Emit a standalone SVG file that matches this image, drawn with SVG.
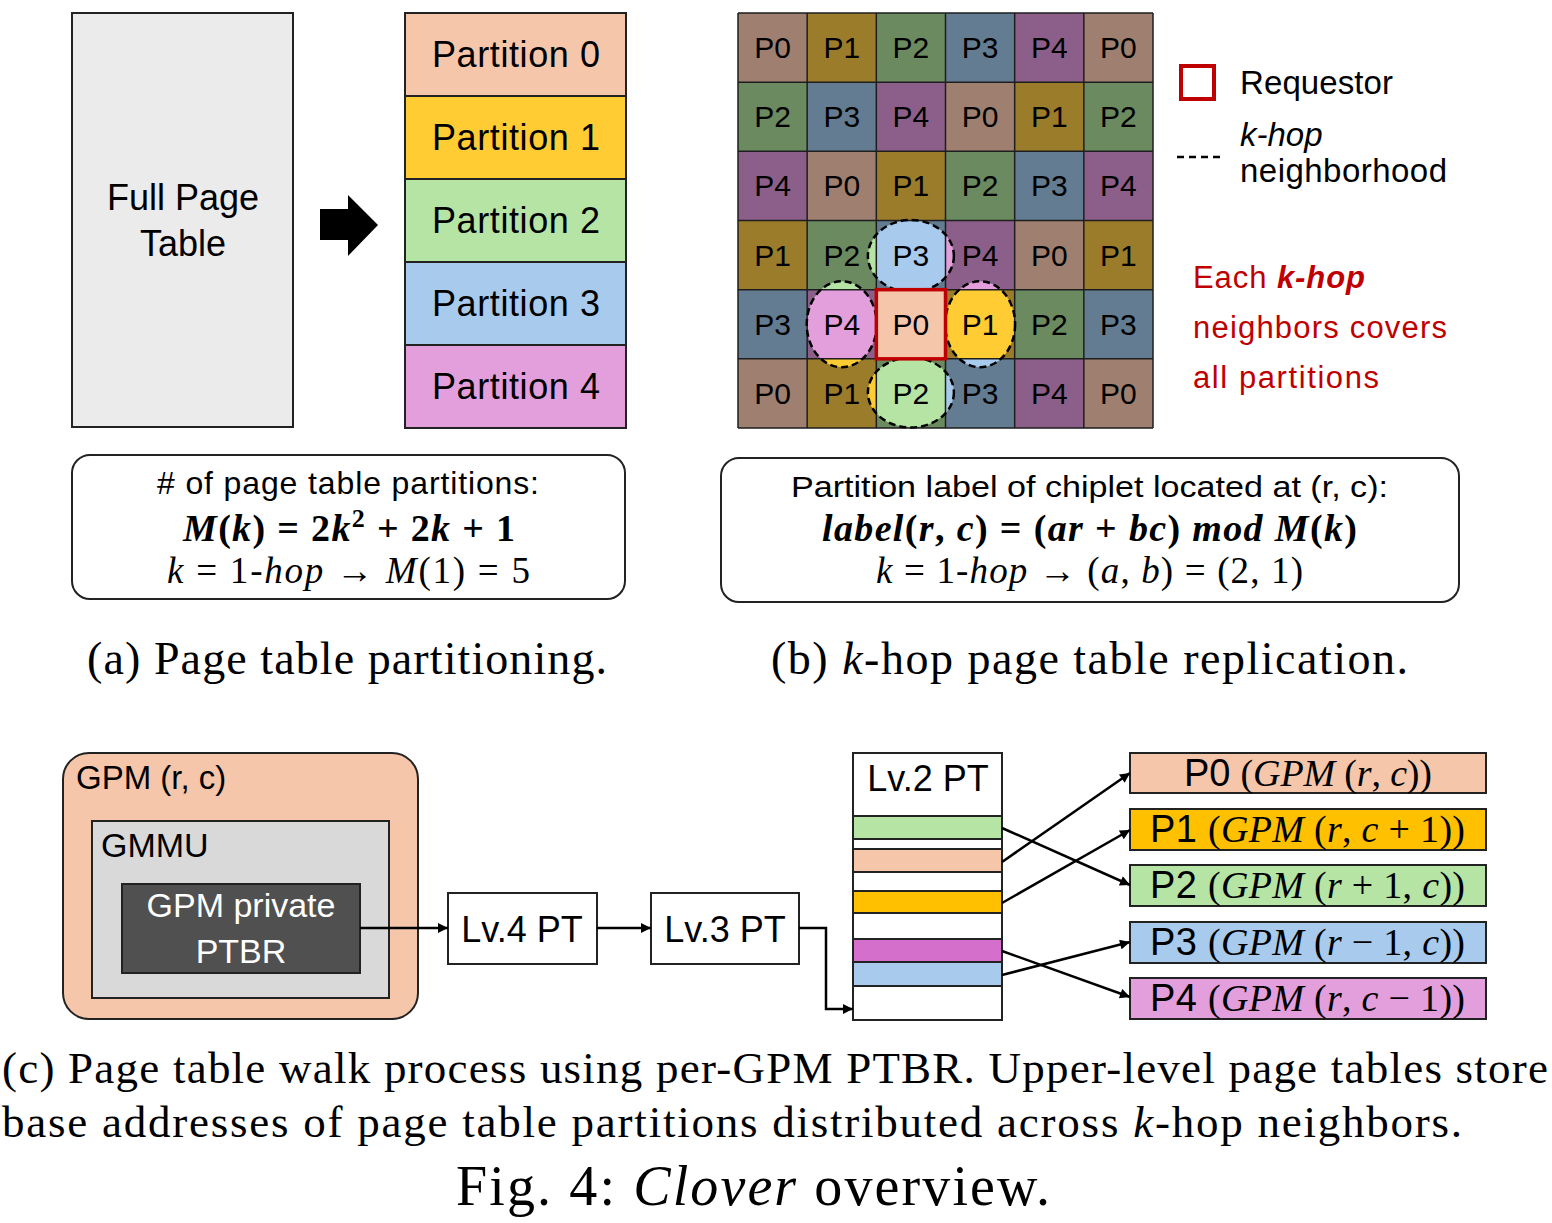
<svg xmlns="http://www.w3.org/2000/svg" width="1552" height="1223" viewBox="0 0 1552 1223">
<defs>
<style>
.sans{font-family:"Liberation Sans",Arial,sans-serif;}
.serif{font-family:"Liberation Serif","Times New Roman",serif;}
.box{stroke:#222;stroke-width:2;}
.cl{font-family:"Liberation Sans",Arial,sans-serif;font-size:30px;fill:#000;text-anchor:middle;}
.conn{stroke:#000;stroke-width:2.5;fill:none;}
.q0{fill:#9F7F6F}.q1{fill:#9B7C2A}.q2{fill:#6B8A5F}.q3{fill:#637C92}.q4{fill:#8C5F8A}
.c0{fill:#F5C6AA}.c1{fill:#FFCC33}.c2{fill:#B5E4A5}.c3{fill:#A8CAEC}.c4{fill:#E39FDC}
.dash{fill:none;stroke:#000;stroke-width:2.5;stroke-dasharray:7 4;}
.it{font-style:italic}
</style>
<marker id="ah" viewBox="0 0 10 10" refX="10" refY="5" markerWidth="12" markerHeight="10" markerUnits="userSpaceOnUse" orient="auto"><path d="M0,0 L10,5 L0,10 z" fill="#000"/></marker>
<clipPath id="e3"><ellipse cx="910.9" cy="256" rx="43" ry="36"/></clipPath>
<clipPath id="e4"><ellipse cx="841.75" cy="324.25" rx="35" ry="43"/></clipPath>
<clipPath id="e1"><ellipse cx="980.1" cy="324.25" rx="35" ry="43"/></clipPath>
<clipPath id="e2"><ellipse cx="910.9" cy="392.5" rx="43" ry="35"/></clipPath>
</defs>
<rect width="1552" height="1223" fill="#fff"/>

<!-- (a) Full page table -->
<g id="full-page-table">
<rect class="box" x="72" y="13" width="221" height="414" fill="#EBEBEB"/>
<text class="sans" x="183" y="210" font-size="36" text-anchor="middle">Full Page</text>
<text class="sans" x="183" y="256" font-size="36" text-anchor="middle">Table</text>
</g>
<g id="block-arrow">
<polygon points="320,209 348,209 348,195 378,225 348,256 348,240 320,240" fill="#000"/>
</g>
<g id="partitions" class="sans" font-size="36">
<rect class="box c0" x="405" y="13" width="221" height="83"/>
<rect class="box c1" x="405" y="96" width="221" height="83"/>
<rect class="box c2" x="405" y="179" width="221" height="83"/>
<rect class="box c3" x="405" y="262" width="221" height="83"/>
<rect class="box c4" x="405" y="345" width="221" height="83"/>
<text x="432" y="67" textLength="168">Partition 0</text>
<text x="432" y="150" textLength="168">Partition 1</text>
<text x="432" y="233" textLength="168">Partition 2</text>
<text x="432" y="316" textLength="168">Partition 3</text>
<text x="432" y="399" textLength="168">Partition 4</text>
</g>

<!-- (b) grid -->
<g id="grid">
<g id="cells">
<rect class="q0" x="738" y="13" width="69.17" height="69.17"/><rect class="q1" x="807.17" y="13" width="69.17" height="69.17"/><rect class="q2" x="876.33" y="13" width="69.17" height="69.17"/><rect class="q3" x="945.5" y="13" width="69.17" height="69.17"/><rect class="q4" x="1014.67" y="13" width="69.17" height="69.17"/><rect class="q0" x="1083.83" y="13" width="69.17" height="69.17"/>
<rect class="q2" x="738" y="82.17" width="69.17" height="69.17"/><rect class="q3" x="807.17" y="82.17" width="69.17" height="69.17"/><rect class="q4" x="876.33" y="82.17" width="69.17" height="69.17"/><rect class="q0" x="945.5" y="82.17" width="69.17" height="69.17"/><rect class="q1" x="1014.67" y="82.17" width="69.17" height="69.17"/><rect class="q2" x="1083.83" y="82.17" width="69.17" height="69.17"/>
<rect class="q4" x="738" y="151.33" width="69.17" height="69.17"/><rect class="q0" x="807.17" y="151.33" width="69.17" height="69.17"/><rect class="q1" x="876.33" y="151.33" width="69.17" height="69.17"/><rect class="q2" x="945.5" y="151.33" width="69.17" height="69.17"/><rect class="q3" x="1014.67" y="151.33" width="69.17" height="69.17"/><rect class="q4" x="1083.83" y="151.33" width="69.17" height="69.17"/>
<rect class="q1" x="738" y="220.5" width="69.17" height="69.17"/><rect class="q2" x="807.17" y="220.5" width="69.17" height="69.17"/><rect class="q3" x="876.33" y="220.5" width="69.17" height="69.17"/><rect class="q4" x="945.5" y="220.5" width="69.17" height="69.17"/><rect class="q0" x="1014.67" y="220.5" width="69.17" height="69.17"/><rect class="q1" x="1083.83" y="220.5" width="69.17" height="69.17"/>
<rect class="q3" x="738" y="289.67" width="69.17" height="69.17"/><rect class="q4" x="807.17" y="289.67" width="69.17" height="69.17"/><rect class="q0" x="876.33" y="289.67" width="69.17" height="69.17"/><rect class="q1" x="945.5" y="289.67" width="69.17" height="69.17"/><rect class="q2" x="1014.67" y="289.67" width="69.17" height="69.17"/><rect class="q3" x="1083.83" y="289.67" width="69.17" height="69.17"/>
<rect class="q0" x="738" y="358.83" width="69.17" height="69.17"/><rect class="q1" x="807.17" y="358.83" width="69.17" height="69.17"/><rect class="q2" x="876.33" y="358.83" width="69.17" height="69.17"/><rect class="q3" x="945.5" y="358.83" width="69.17" height="69.17"/><rect class="q4" x="1014.67" y="358.83" width="69.17" height="69.17"/><rect class="q0" x="1083.83" y="358.83" width="69.17" height="69.17"/>
</g>
<g id="neighbor-fills">
<g clip-path="url(#e3)">
<rect class="c2" x="860" y="212" width="16.33" height="85"/>
<rect class="c4" x="945.5" y="212" width="16" height="85"/>
<rect class="c3" x="876.33" y="212" width="69.17" height="85"/>
</g>
<g clip-path="url(#e4)">
<rect class="c2" x="800" y="278" width="80" height="11.67"/>
<rect class="c1" x="800" y="358.83" width="80" height="12"/>
<rect class="c4" x="800" y="289.67" width="80" height="69.16"/>
</g>
<g clip-path="url(#e1)">
<rect class="c4" x="940" y="278" width="80" height="11.67"/>
<rect class="c3" x="940" y="358.83" width="80" height="12"/>
<rect class="c1" x="940" y="289.67" width="80" height="69.16"/>
</g>
<g clip-path="url(#e2)">
<rect class="c1" x="860" y="355" width="16.33" height="80"/>
<rect class="c3" x="945.5" y="355" width="16" height="80"/>
<rect class="c2" x="876.33" y="355" width="69.17" height="80"/>
</g>
</g>
<path d="M738,13 V428 M807.17,13 V428 M876.33,13 V428 M945.5,13 V428 M1014.67,13 V428 M1083.83,13 V428 M1153,13 V428 M738,13 H1153 M738,82.17 H1153 M738,151.33 H1153 M738,220.5 H1153 M738,289.67 H1153 M738,358.83 H1153 M738,428 H1153" stroke="#1e1e1e" stroke-width="1.5" fill="none"/>
<g id="neighborhood-outlines">
<ellipse class="dash" cx="910.9" cy="256" rx="43" ry="36"/>
<ellipse class="dash" cx="841.75" cy="324.25" rx="35" ry="43"/>
<ellipse class="dash" cx="980.1" cy="324.25" rx="35" ry="43"/>
<ellipse class="dash" cx="910.9" cy="392.5" rx="43" ry="35"/>
</g>
<rect id="requestor" x="876.33" y="289.67" width="69.17" height="69.16" fill="#F5C6AA" stroke="#C00000" stroke-width="3.5"/>
<g id="cell-labels">
<text class="cl" x="772.6" y="58">P0</text><text class="cl" x="841.75" y="58">P1</text><text class="cl" x="910.9" y="58">P2</text><text class="cl" x="980.1" y="58">P3</text><text class="cl" x="1049.25" y="58">P4</text><text class="cl" x="1118.4" y="58">P0</text>
<text class="cl" x="772.6" y="127.2">P2</text><text class="cl" x="841.75" y="127.2">P3</text><text class="cl" x="910.9" y="127.2">P4</text><text class="cl" x="980.1" y="127.2">P0</text><text class="cl" x="1049.25" y="127.2">P1</text><text class="cl" x="1118.4" y="127.2">P2</text>
<text class="cl" x="772.6" y="196.4">P4</text><text class="cl" x="841.75" y="196.4">P0</text><text class="cl" x="910.9" y="196.4">P1</text><text class="cl" x="980.1" y="196.4">P2</text><text class="cl" x="1049.25" y="196.4">P3</text><text class="cl" x="1118.4" y="196.4">P4</text>
<text class="cl" x="772.6" y="265.6">P1</text><text class="cl" x="841.75" y="265.6">P2</text><text class="cl" x="910.9" y="265.6">P3</text><text class="cl" x="980.1" y="265.6">P4</text><text class="cl" x="1049.25" y="265.6">P0</text><text class="cl" x="1118.4" y="265.6">P1</text>
<text class="cl" x="772.6" y="334.7">P3</text><text class="cl" x="841.75" y="334.7">P4</text><text class="cl" x="910.9" y="334.7">P0</text><text class="cl" x="980.1" y="334.7">P1</text><text class="cl" x="1049.25" y="334.7">P2</text><text class="cl" x="1118.4" y="334.7">P3</text>
<text class="cl" x="772.6" y="403.9">P0</text><text class="cl" x="841.75" y="403.9">P1</text><text class="cl" x="910.9" y="403.9">P2</text><text class="cl" x="980.1" y="403.9">P3</text><text class="cl" x="1049.25" y="403.9">P4</text><text class="cl" x="1118.4" y="403.9">P0</text>
</g>
</g>

<!-- legend -->
<g id="legend" class="sans">
<rect x="1181" y="66" width="33" height="33" fill="none" stroke="#C00000" stroke-width="4"/>
<text x="1240" y="94" font-size="33" textLength="153">Requestor</text>
<line x1="1177" y1="157" x2="1221" y2="157" stroke="#000" stroke-width="2.5" stroke-dasharray="7 5"/>
<text x="1240" y="146" font-size="33" font-style="italic">k-hop</text>
<text x="1240" y="182" font-size="33" textLength="207">neighborhood</text>
<g fill="#C00000" font-size="31">
<text x="1193" y="288" textLength="172">Each <tspan font-weight="bold" font-style="italic">k-hop</tspan></text>
<text x="1193" y="338" textLength="254">neighbors covers</text>
<text x="1193" y="388" textLength="186">all partitions</text>
</g>
</g>

<!-- formula boxes -->
<g id="formula-a">
<rect class="box" x="72" y="455" width="553" height="144" rx="18" fill="#fff"/>
<text class="sans" x="157" y="494" font-size="32" textLength="382"># of page table partitions:</text>
<text class="serif" x="183" y="541" font-size="38" font-weight="bold" textLength="332"><tspan class="it">M</tspan>(<tspan class="it">k</tspan>) = 2<tspan class="it">k</tspan><tspan font-size="26" dy="-14">2</tspan><tspan dy="14"> + 2</tspan><tspan class="it">k</tspan> + 1</text>
<text class="serif" x="167" y="583" font-size="37" textLength="363"><tspan class="it">k</tspan> = 1-<tspan class="it">hop</tspan> → <tspan class="it">M</tspan>(1) = 5</text>
</g>
<g id="formula-b">
<rect class="box" x="721" y="458" width="738" height="144" rx="18" fill="#fff"/>
<text class="sans" x="791" y="497" font-size="30" textLength="597" lengthAdjust="spacingAndGlyphs">Partition label of chiplet located at (r, c):</text>
<text class="serif" x="822" y="541" font-size="38" font-weight="bold" textLength="535"><tspan class="it">label</tspan>(<tspan class="it">r</tspan>, <tspan class="it">c</tspan>) = (<tspan class="it">ar</tspan> + <tspan class="it">bc</tspan>) <tspan class="it">mod M</tspan>(<tspan class="it">k</tspan>)</text>
<text class="serif" x="876" y="583" font-size="37" textLength="427"><tspan class="it">k</tspan> = 1-<tspan class="it">hop</tspan> → (<tspan class="it">a</tspan>, <tspan class="it">b</tspan>) = (2, 1)</text>
</g>

<g id="captions-ab" class="serif" font-size="46">
<text x="87" y="674" textLength="520">(a) Page table partitioning.</text>
<text x="771" y="674" textLength="637">(b) <tspan class="it">k</tspan>-hop page table replication.</text>
</g>

<!-- (c) -->
<g id="gpm">
<rect class="box" x="63" y="753" width="355" height="266" rx="26" fill="#F5C6AA"/>
<text class="sans" x="76" y="789" font-size="33">GPM (r, c)</text>
</g>
<g id="gmmu">
<rect class="box" x="92" y="821" width="297" height="177" fill="#D9D9D9"/>
<text class="sans" x="101" y="857" font-size="34">GMMU</text>
</g>
<g id="ptbr">
<rect class="box" x="122" y="884" width="238" height="89" fill="#505050"/>
<text class="sans" x="241" y="917" font-size="34" fill="#fff" text-anchor="middle">GPM private</text>
<text class="sans" x="241" y="963" font-size="34" fill="#fff" text-anchor="middle">PTBR</text>
</g>
<g id="lv4">
<rect class="box" x="448" y="893" width="149" height="71" fill="#fff"/>
<text class="sans" x="522" y="942" font-size="36" text-anchor="middle">Lv.4 PT</text>
</g>
<g id="lv3">
<rect class="box" x="651" y="893" width="148" height="71" fill="#fff"/>
<text class="sans" x="725" y="942" font-size="36" text-anchor="middle">Lv.3 PT</text>
</g>
<g id="lv2">
<rect class="box" x="853" y="753" width="149" height="267" fill="#fff"/>
<text class="sans" x="928" y="791" font-size="36" text-anchor="middle">Lv.2 PT</text>
<rect class="box" x="853" y="816" width="149" height="23" fill="#B5E4A5"/>
<rect class="box" x="853" y="849" width="149" height="23" fill="#F5C6AA"/>
<rect class="box" x="853" y="891" width="149" height="22" fill="#FFC000"/>
<rect class="box" x="853" y="939" width="149" height="23" fill="#D46FCB"/>
<rect class="box" x="853" y="962" width="149" height="24" fill="#A8CAEC"/>
</g>
<g id="targets">
<rect class="box" x="1130" y="753" width="356" height="40" fill="#F5C6AA"/>
<rect class="box" x="1130" y="809" width="356" height="41" fill="#FFC000"/>
<rect class="box" x="1130" y="865" width="356" height="41" fill="#B5E4A5"/>
<rect class="box" x="1130" y="922" width="356" height="41" fill="#A8CAEC"/>
<rect class="box" x="1130" y="978" width="356" height="41" fill="#E39FDC"/>
<g font-size="38">
<text x="1184" y="786" textLength="248"><tspan class="sans">P0 </tspan><tspan class="serif">(<tspan class="it">GPM</tspan> (<tspan class="it">r</tspan>, <tspan class="it">c</tspan>))</tspan></text>
<text x="1150" y="842" textLength="315"><tspan class="sans">P1 </tspan><tspan class="serif">(<tspan class="it">GPM</tspan> (<tspan class="it">r</tspan>, <tspan class="it">c</tspan> + 1))</tspan></text>
<text x="1150" y="898" textLength="315"><tspan class="sans">P2 </tspan><tspan class="serif">(<tspan class="it">GPM</tspan> (<tspan class="it">r</tspan> + 1, <tspan class="it">c</tspan>))</tspan></text>
<text x="1150" y="955" textLength="315"><tspan class="sans">P3 </tspan><tspan class="serif">(<tspan class="it">GPM</tspan> (<tspan class="it">r</tspan> − 1, <tspan class="it">c</tspan>))</tspan></text>
<text x="1150" y="1011" textLength="315"><tspan class="sans">P4 </tspan><tspan class="serif">(<tspan class="it">GPM</tspan> (<tspan class="it">r</tspan>, <tspan class="it">c</tspan> − 1))</tspan></text>
</g>
</g>
<g id="connectors">
<path class="conn" d="M360,928 H448" marker-end="url(#ah)"/>
<path class="conn" d="M597,928 H651" marker-end="url(#ah)"/>
<path class="conn" d="M799,928 H826 V1009 H853" marker-end="url(#ah)"/>
<path class="conn" d="M1002,828 L1130,885" marker-end="url(#ah)"/>
<path class="conn" d="M1002,862 L1130,773" marker-end="url(#ah)"/>
<path class="conn" d="M1002,903 L1130,830" marker-end="url(#ah)"/>
<path class="conn" d="M1002,951 L1130,997" marker-end="url(#ah)"/>
<path class="conn" d="M1002,975 L1130,942" marker-end="url(#ah)"/>
</g>

<g id="captions-c" class="serif">
<text x="2" y="1083" font-size="45" textLength="1546">(c) Page table walk process using per-GPM PTBR. Upper-level page tables store</text>
<text x="2" y="1137" font-size="45" textLength="1460">base addresses of page table partitions distributed across <tspan class="it">k</tspan>-hop neighbors.</text>
<text x="456" y="1205" font-size="56" textLength="594">Fig. 4: <tspan class="it">Clover</tspan> overview.</text>
</g>
</svg>
